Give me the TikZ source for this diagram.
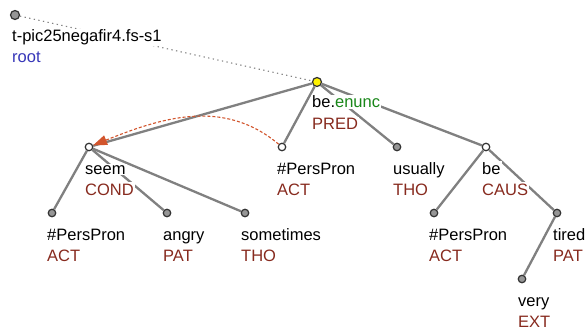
\documentclass[tikz,border=0pt]{standalone}
\usepackage{fontspec}
\setmainfont{Liberation Sans}
\usepackage{xcolor}
\usepackage{tikz}
\usetikzlibrary{arrows.meta, positioning}
\definecolor{edgegrey}{RGB}{128,128,128}
\definecolor{nodeline}{RGB}{50,50,50}
\definecolor{nodegrey}{RGB}{150,150,150}
\definecolor{functor}{RGB}{135,42,30}
\definecolor{rootblue}{RGB}{55,55,185}
\definecolor{enuncgreen}{RGB}{25,135,25}
\definecolor{corefred}{RGB}{210,85,45}

\begin{document}
\begin{tikzpicture}[
    x=1pt, y=-1pt,
    font=\fontsize{16.5pt}{20pt}\selectfont,
    tn/.style={circle, draw=nodeline, line width=1.2pt, inner sep=0pt, minimum size=7.5pt},
    tnwhite/.style={tn, fill=white},
    tngrey/.style={tn, fill=nodegrey},
    tnyellow/.style={tn, fill=yellow, minimum size=9pt},
    lem/.style={anchor=base west, fill=white, inner sep=1pt, text=black},
    fun/.style={lem, text=functor},
    branch/.style={draw=edgegrey, line width=2.3pt},
    coref/.style={-{Triangle[length=14pt, width=10pt, fill=corefred]}, draw=corefred, line width=1.1pt, dash pattern=on 3pt off 2pt}
]
\path[use as bounding box, fill=white] (0,0) rectangle (587,329);

% tree nodes
\node[tngrey, minimum size=9pt] (doc) at (15,15) {};
\node[tnyellow] (top) at (317,82) {};

\node[tnwhite] (seem) at (89,147) {};
\node[tnwhite] (actA) at (282,147) {};
\node[tngrey] (usually) at (397,147) {};
\node[tnwhite] (be) at (486,147) {};

\node[tngrey] (actB) at (52,213) {};
\node[tngrey] (angry) at (167,213) {};
\node[tngrey] (sometimes) at (245,213) {};
\node[tngrey] (actC) at (434,213) {};
\node[tngrey] (tired) at (557,213) {};
\node[tngrey] (very) at (522,279) {};

% edges
\draw[edgegrey, line width=1.1pt, dash pattern=on 1.3pt off 3.4pt] (doc) -- (top);
\draw[branch] (top) -- (seem);
\draw[branch] (top) -- (actA);
\draw[branch] (top) -- (usually);
\draw[branch] (top) -- (be);
\draw[branch] (seem) -- (actB);
\draw[branch] (seem) -- (angry);
\draw[branch] (seem) -- (sometimes);
\draw[branch] (be) -- (actC);
\draw[branch] (be) -- (tired);
\draw[branch] (tired) -- (very);

% coreference
\draw[coref] (actA) to[out=140, in=22] (seem);

% labels
\node[lem] (doc-l) at ([shift={(-4,27)}]doc) {t-pic25negafir4.fs-s1};
\node[lem, text=rootblue] (doc-f) at ([shift={(-4,48)}]doc) {root};

\node[lem] (top-l) at ([shift={(-6,26)}]top) {be.\textcolor{enuncgreen}{enunc}};
\node[fun] (top-f) at ([shift={(-6,47)}]top) {PRED};

\node[lem] (seem-l) at ([shift={(-5,27)}]seem) {seem};
\node[fun] (seem-f) at ([shift={(-5,48)}]seem) {COND};
\node[lem] (actA-l) at ([shift={(-6,27)}]actA) {\#PersPron};
\node[fun] (actA-f) at ([shift={(-6,48)}]actA) {ACT};
\node[lem] (usually-l) at ([shift={(-5,27)}]usually) {usually};
\node[fun] (usually-f) at ([shift={(-5,48)}]usually) {THO};
\node[lem] (be-l) at ([shift={(-5,27)}]be) {be};
\node[fun] (be-f) at ([shift={(-5,48)}]be) {CAUS};

\node[lem] (actB-l) at ([shift={(-6,27)}]actB) {\#PersPron};
\node[fun] (actB-f) at ([shift={(-6,48)}]actB) {ACT};
\node[lem] (angry-l) at ([shift={(-5,27)}]angry) {angry};
\node[fun] (angry-f) at ([shift={(-5,48)}]angry) {PAT};
\node[lem] (sometimes-l) at ([shift={(-5,27)}]sometimes) {sometimes};
\node[fun] (sometimes-f) at ([shift={(-5,48)}]sometimes) {THO};
\node[lem] (actC-l) at ([shift={(-6,27)}]actC) {\#PersPron};
\node[fun] (actC-f) at ([shift={(-6,48)}]actC) {ACT};
\node[lem] (tired-l) at ([shift={(-5,27)}]tired) {tired};
\node[fun] (tired-f) at ([shift={(-5,48)}]tired) {PAT};
\node[lem] (very-l) at ([shift={(-5,27)}]very) {very};
\node[fun] (very-f) at ([shift={(-5,48)}]very) {EXT};

\end{tikzpicture}
\end{document}
